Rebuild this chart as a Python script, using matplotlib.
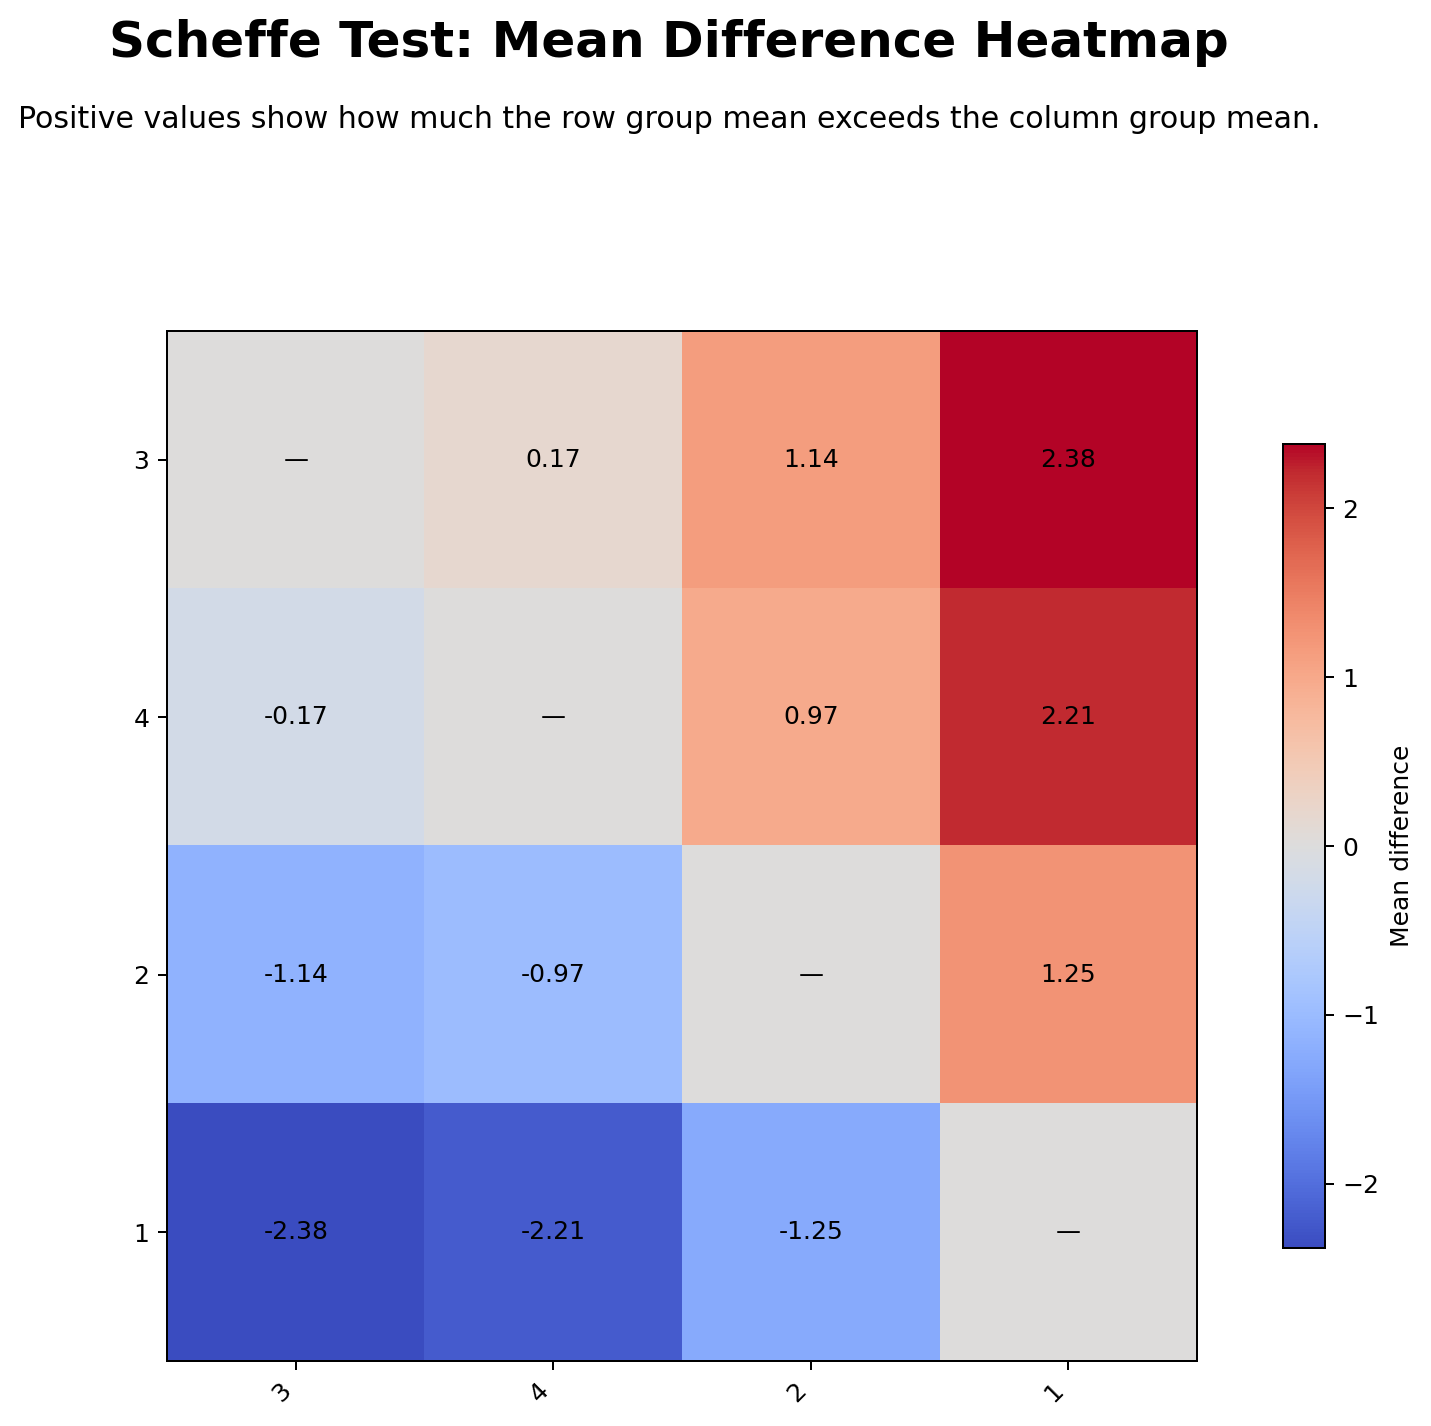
import numpy as np
import matplotlib
matplotlib.use("Agg")
import matplotlib.pyplot as plt

# ====== group labels and mean differences (row minus column) ======
row_groups = ["3", "4", "2", "1"]
col_groups = ["3", "4", "2", "1"]
mean_diff = np.array([
    [0.00, 0.17, 1.14, 2.38],
    [-0.17, 0.00, 0.97, 2.21],
    [-1.14, -0.97, 0.00, 1.25],
    [-2.38, -2.21, -1.25, 0.00],
])

title = "Scheffe Test: Mean Difference Heatmap"
subtitle = "Positive values show how much the row group mean exceeds the column group mean."

vmax = np.abs(mean_diff).max()

fig = plt.figure(figsize=(1431 / 180, 1426 / 180), dpi=180)
ax = fig.add_axes([0.1167, 0.0456, 0.7198, 0.7223])
cax = fig.add_axes([0.8966, 0.1248, 0.02935, 0.5638])

im = ax.imshow(mean_diff, cmap="coolwarm", vmin=-vmax, vmax=vmax, aspect="auto")

# annotate cells, dash on the diagonal
for i in range(len(row_groups)):
    for j in range(len(col_groups)):
        txt = "\u2014" if i == j else "%.2f" % mean_diff[i, j]
        ax.text(j, i, txt, ha="center", va="center", fontsize=10, color="black")

ax.set_xticks(range(len(col_groups)))
ax.set_xticklabels(col_groups, rotation=45, ha="right")
ax.set_yticks(range(len(row_groups)))
ax.set_yticklabels(row_groups)

cb = fig.colorbar(im, cax=cax)
cb.set_label("Mean difference")

fig.text(0.4675, 0.9695, title, ha="center", va="center", fontsize=20, fontweight="bold")
fig.text(0.4675, 0.9165, subtitle, ha="center", va="center", fontsize=12)

fig.savefig("out.png", dpi=180)
